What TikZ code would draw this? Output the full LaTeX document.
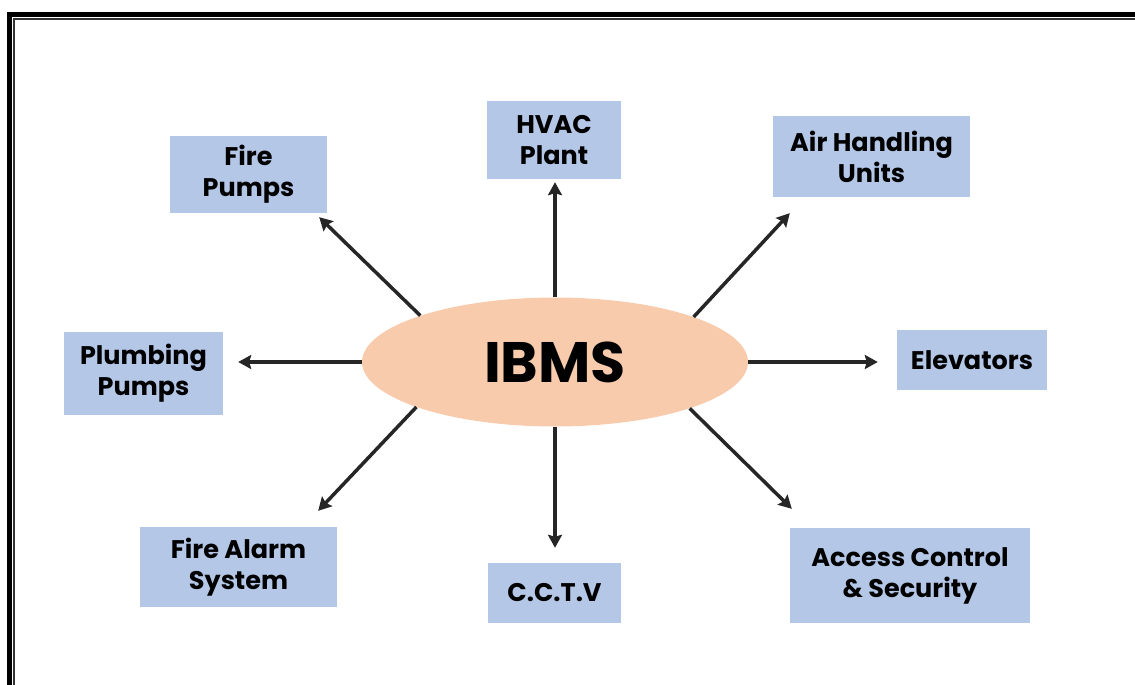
\documentclass[tikz,border=0pt]{standalone}
\usepackage{fontspec}
\setmainfont{Poppins}
\usetikzlibrary{shapes.geometric,arrows.meta,calc}
\definecolor{boxblue}{HTML}{B4C7E7}
\definecolor{peach}{HTML}{F8CBAD}
\definecolor{arrowgray}{HTML}{262626}
\begin{document}
\begin{tikzpicture}[x=1pt,y=-1pt,
  item/.style={rectangle,fill=boxblue,inner sep=0pt,align=center,
    font=\bfseries\fontsize{25.5}{31}\selectfont},
  link/.style={draw=arrowgray,line width=3.5pt,
    -{Stealth[length=13pt,width=14pt,inset=2pt]}}]
\useasboundingbox (0,0) rectangle (1135,685);
\begin{scope}
\clip (0,0) rectangle (1135,685);
\draw[line width=5pt] (9.5,700) -- (9.5,14.5) -- (1150,14.5);
\draw[line width=2pt,black!80] (14,700) -- (14,19) -- (1150,19);
\end{scope}
% center
\node[ellipse,fill=peach,minimum width=386pt,minimum height=129pt,inner sep=0pt,
  font=\bfseries\fontsize{57}{60}\selectfont] (ibms) at (555,362) {IBMS};
% boxes
\node[item,minimum width=157pt,minimum height=77pt] (fp) at (248.5,174.5) {Fire\\Pumps};
\node[item,minimum width=134pt,minimum height=78pt] (hv) at (554,140) {HVAC\\Plant};
\node[item,minimum width=197pt,minimum height=81pt] (ahu) at (871.5,156.5) {Air Handling\\Units};
\node[item,minimum width=159pt,minimum height=83pt] (pl) at (143.5,373.5) {Plumbing\\Pumps};
\node[item,minimum width=150pt,minimum height=60pt] (el) at (972,360) {Elevators};
\node[item,minimum width=197pt,minimum height=80pt] (fa) at (238.5,567) {Fire Alarm\\System};
\node[item,minimum width=133pt,minimum height=60pt] (cc) at (554.5,593) {C.C.T.V};
\node[item,minimum width=240pt,minimum height=95pt] (ac) at (910,575.5) {Access Control\\\& Security};
% connectors
\draw[link] (ibms.north) -- ($(ibms.north |- hv.south)+(0,3)$);
\draw[link] (ibms.south) -- ($(ibms.south |- cc.north)+(0,-15)$);
\draw[link] (ibms.west) -- ($(ibms.west -| pl.east)+(15,0)$);
\draw[link] (ibms.east) -- ($(ibms.east -| el.west)+(-19,0)$);
\draw[link] (ibms.161.7) -- ($(fp.south east)+(-8,4)$);
\draw[link] (ibms.18.3) -- ($(ahu.south west)+(17,16)$);
\draw[link] (ibms.198.3) -- ($(fa.north east)+(-19,-16)$);
\draw[link] (ibms.341.7) -- ($(ac.north west)+(2,-19)$);
\end{tikzpicture}
\end{document}
